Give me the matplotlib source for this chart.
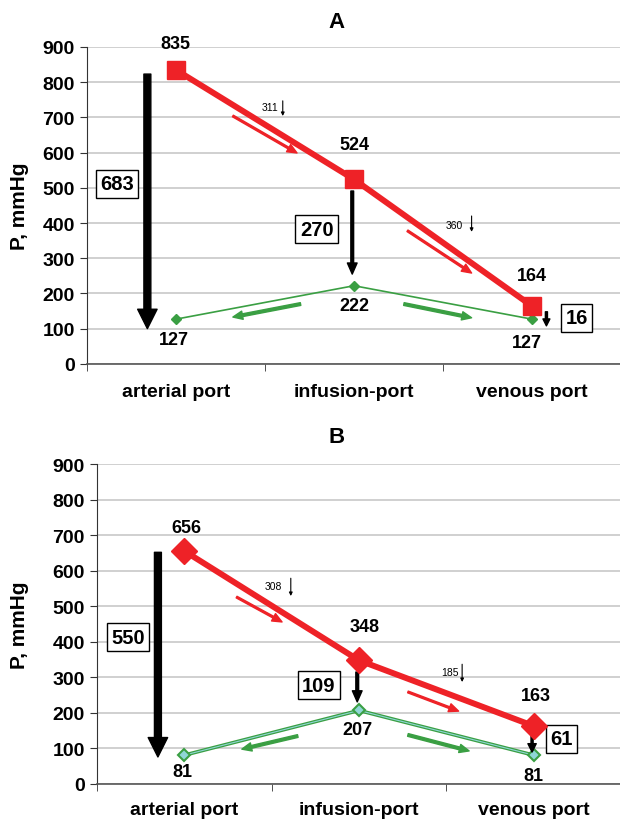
import matplotlib
matplotlib.use("Agg")
import matplotlib.pyplot as plt

plt.rcParams['font.family'] = ['Liberation Sans', 'DejaVu Sans']
plt.rcParams['font.weight'] = 'bold'

ports = ["arterial port", "infusion-port", "venous port"]

# panel A: pressures at each port (mmHg)
a_line = [835, 524, 164]
a_pre = [127, 222, 127]
a_drops = [683, 270, 16]
a_steps = [311, 360]

# panel B
b_line = [656, 348, 163]
b_pre = [81, 207, 81]
b_drops = [550, 109, 61]
b_steps = [308, 185]

RED = "#ee2227"
GREEN = "#3a9f43"
xs = [0.5, 1.5, 2.5]


def setup_axes(ax, pad, ylab_x):
    ax.set_xlim(0, 3)
    ax.set_ylim(0, 900)
    ax.set_yticks(range(0, 901, 100))
    ax.yaxis.grid(True, color="#c4c4c4", lw=1.1)
    ax.set_axisbelow(True)
    for s in ("top", "right"):
        ax.spines[s].set_visible(False)
    ax.spines["left"].set_color("#333333")
    ax.spines["bottom"].set_color("#555555")
    ax.spines["bottom"].set_linewidth(1.2)
    ax.set_xticks(xs)
    ax.set_xticklabels(ports, fontsize=14, fontweight="bold")
    ax.tick_params(axis="x", length=0, pad=pad)
    ax.set_xticks([0, 1, 2], minor=True)
    ax.tick_params(axis="x", which="minor", length=5, color="#333333")
    ax.tick_params(axis="y", labelsize=14, length=5, color="#333333")
    for t in ax.get_yticklabels():
        t.set_fontweight("bold")
    ax.set_ylabel("P, mmHg", fontsize=15, fontweight="bold")
    ax.yaxis.set_label_coords(ylab_x, 0.5)


def arrow(ax, x0, y0, x1, y1, color, width, hw, hl):
    ax.annotate("", xy=(x1, y1), xytext=(x0, y0),
                arrowprops=dict(facecolor=color, edgecolor=color, width=width,
                                headwidth=hw, headlength=hl, shrink=0),
                annotation_clip=False)


def tiny(ax, x, y0, y1, txt, tx, ty):
    ax.annotate("", xy=(x, y1), xytext=(x, y0),
                arrowprops=dict(arrowstyle="-|>", color="black", lw=0.8,
                                mutation_scale=5, shrinkA=0, shrinkB=0))
    ax.text(tx, ty, txt, fontsize=7.5, fontweight="normal", ha="center", va="center")


def boxed(ax, x, y, val):
    ax.text(x, y, str(val), fontsize=14.5, fontweight="bold", ha="center", va="center",
            bbox=dict(boxstyle="square,pad=0.22", fc="white", ec="black", lw=1))


fig = plt.figure(figsize=(6.2, 8.2), dpi=100)

# ---- panel A ----
axA = fig.add_axes([0.140, 0.555, 0.862, 0.3865])
setup_axes(axA, 14, -0.108)
axA.plot(xs, a_pre, color=GREEN, lw=1.2, marker="D", ms=5, zorder=3)
axA.plot(xs, a_line, color=RED, lw=4.3, marker="s", ms=13, zorder=4)

arrow(axA, 0.34, 823, 0.34, 100, "black", 5, 14, 14)
arrow(axA, 1.49, 491, 1.49, 255, "black", 2, 7, 8)
arrow(axA, 2.58, 148, 2.58, 108, "black", 1.5, 5, 5)
arrow(axA, 0.82, 704, 1.18, 599, RED, 1.3, 6, 7)
arrow(axA, 1.80, 378, 2.16, 258, RED, 1.3, 6, 7)
arrow(axA, 1.20, 170, 0.82, 133, GREEN, 2, 6, 7)
arrow(axA, 1.78, 170, 2.16, 131, GREEN, 2, 6, 7)
tiny(axA, 1.10, 747, 704, str(a_steps[0]), 1.03, 730)
tiny(axA, 2.16, 420, 375, str(a_steps[1]), 2.06, 395)

boxed(axA, 0.17, 511, a_drops[0])
boxed(axA, 1.29, 383, a_drops[1])
boxed(axA, 2.75, 131, a_drops[2])

for x, v, dy in zip(xs, a_line, [75, 100, 88]):
    axA.text(x, v + dy, str(v), fontsize=13, fontweight="bold", ha="center", va="center",
             clip_on=False)
for x, v, dy in zip([0.49, 1.5, 2.47], a_pre, [-57, -57, -65]):
    axA.text(x, v + dy, str(v), fontsize=13, fontweight="bold", ha="center", va="center")
fig.text(0.543, 0.972, "A", fontsize=16, fontweight="bold", ha="center", va="center")

# ---- panel B ----
axB = fig.add_axes([0.156, 0.0427, 0.846, 0.390])
setup_axes(axB, 12, -0.130)
axB.plot(xs, b_pre, color=GREEN, lw=2.6, zorder=3)
axB.plot(xs, b_pre, color="#8fd6d6", lw=0.8, marker="D", ms=6,
         mfc="#8fd6d6", mec=GREEN, mew=1.5, zorder=3)
axB.plot(xs, b_line, color=RED, lw=4.3, marker="D", ms=13, zorder=4)

arrow(axB, 0.35, 652, 0.35, 76, "black", 5, 14, 14)
arrow(axB, 1.49, 315, 1.49, 231, "black", 2, 7, 8)
arrow(axB, 2.49, 135, 2.49, 90, "black", 1.5, 6, 6)
arrow(axB, 0.80, 526, 1.06, 456, RED, 1.3, 6, 7)
arrow(axB, 1.78, 259, 2.07, 205, RED, 1.3, 6, 7)
arrow(axB, 1.15, 135, 0.83, 98, GREEN, 2, 6, 7)
arrow(axB, 1.78, 138, 2.13, 93, GREEN, 2, 6, 7)
tiny(axB, 1.11, 579, 529, str(b_steps[0]), 1.01, 557)
tiny(axB, 2.09, 337, 287, str(b_steps[1]), 2.02, 315)

boxed(axB, 0.18, 413, b_drops[0])
boxed(axB, 1.27, 278, b_drops[1])
boxed(axB, 2.66, 127, b_drops[2])

for x, v, dy in zip([0.51, 1.53, 2.51], b_line, [67, 94, 87]):
    axB.text(x, v + dy, str(v), fontsize=13, fontweight="bold", ha="center", va="center")
for x, v, dy in zip([0.49, 1.49, 2.5], b_pre, [-47, -55, -58]):
    axB.text(x, v + dy, str(v), fontsize=13, fontweight="bold", ha="center", va="center",
             clip_on=False)
fig.text(0.543, 0.466, "B", fontsize=16, fontweight="bold", ha="center", va="center")

fig.savefig("out.png", dpi=100)
